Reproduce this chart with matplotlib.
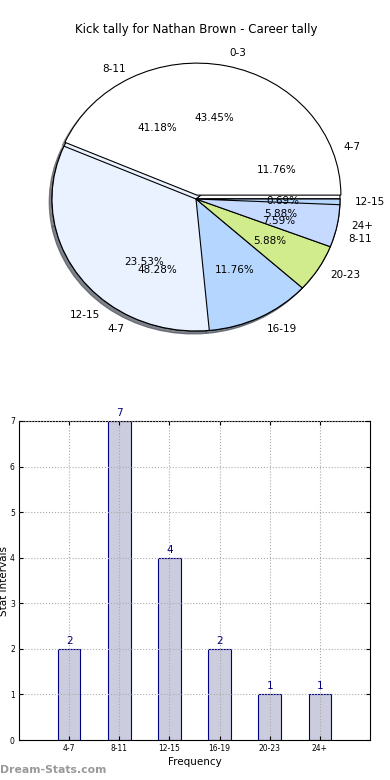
import matplotlib
matplotlib.use('Agg')
import matplotlib.pyplot as plt

# career tally pie (counts behind the percentages)
career_labels = ['0-3', '4-7', '8-11', '12-15']
career_counts = [63, 70, 11, 1]

# interval tally (pie + bars)
interval_labels = ['4-7', '8-11', '12-15', '16-19', '20-23', '24+']
interval_counts = [2, 7, 4, 2, 1, 1]

pie_colors = ['#ffffff', '#ebf2ff', '#c6d9ff', '#b4d6ff', '#d1ec8c', '#c6d9ff']
navy = '#000080'

fig = plt.figure(figsize=(3.9, 7.8), dpi=100)

# ---- pie section (stretched, not equal aspect like the old output) ----
ax = fig.add_axes([16 / 390, 1 - 364 / 780, 360 / 390, 330 / 780])
wedge_kw = {'linewidth': 0.8, 'edgecolor': 'black'}
shadow_kw = {'ox': -0.014, 'oy': -0.016, 'shade': 0.6}

w_a, t_a, p_a = ax.pie(career_counts, labels=career_labels, autopct='%1.2f%%',
                       explode=[0.03, 0, 0, 0], colors=pie_colors[:4],
                       shadow=shadow_kw, wedgeprops=wedge_kw,
                       textprops={'fontsize': 7.5})
w_b, t_b, p_b = ax.pie(interval_counts, labels=interval_labels, autopct='%1.2f%%',
                       colors=pie_colors, shadow=shadow_kw, wedgeprops=wedge_kw,
                       textprops={'fontsize': 7.5})

# stacking of the wedges as they came out in the original
for w, z in zip(w_a, [2, 2, 1, 4]):
    w.set_zorder(z)
for w, z in zip(w_b, [1, 1, 1, 3, 3, 3]):
    w.set_zorder(z)
for t in t_a + p_a + t_b + p_b:
    t.set_zorder(10)

ax.set_aspect('auto')
ax.set_xlim(-1.25, 1.25)
ax.set_ylim(-1.25, 1.25)
ax.axis('off')

fig.text(196 / 390, 1 - 30 / 780, 'Kick tally for Nathan Brown - Career tally',
         ha='center', va='center', fontsize=8.5)

# ---- bar section ----
ax2 = fig.add_axes([19 / 390, 40 / 780, 351 / 390, 319 / 780])
xs = range(len(interval_labels))
bars = ax2.bar(xs, interval_counts, width=0.45, color='#ccccdf',
               edgecolor=navy, linewidth=0.8)
for x, v in zip(xs, interval_counts):
    ax2.text(x, v + 0.07, str(v), ha='center', va='bottom', color=navy, fontsize=7.5)

ax2.set_xlim(-1, 6)
ax2.set_ylim(0, 7)
ax2.set_xticks(list(xs))
ax2.set_xticklabels(interval_labels)
ax2.set_yticks(range(8))
ax2.tick_params(direction='in', top=True, right=True, labelsize=5.5, length=3, pad=3)
ax2.grid(True, linestyle=':', color='#aaaaaa', linewidth=0.8)
ax2.set_axisbelow(False)
ax2.set_xlabel('Frequency', fontsize=7.5, labelpad=2.5)
ax2.set_ylabel('Stat Intervals', fontsize=7.5)
ax2.yaxis.set_label_coords(-0.028, 0.5)

fig.text(0.0, 10 / 780, 'Dream-Stats.com', ha='left', va='center',
         fontsize=7.8, color='#999999', fontweight='bold')

fig.savefig('out.png', dpi=100)
